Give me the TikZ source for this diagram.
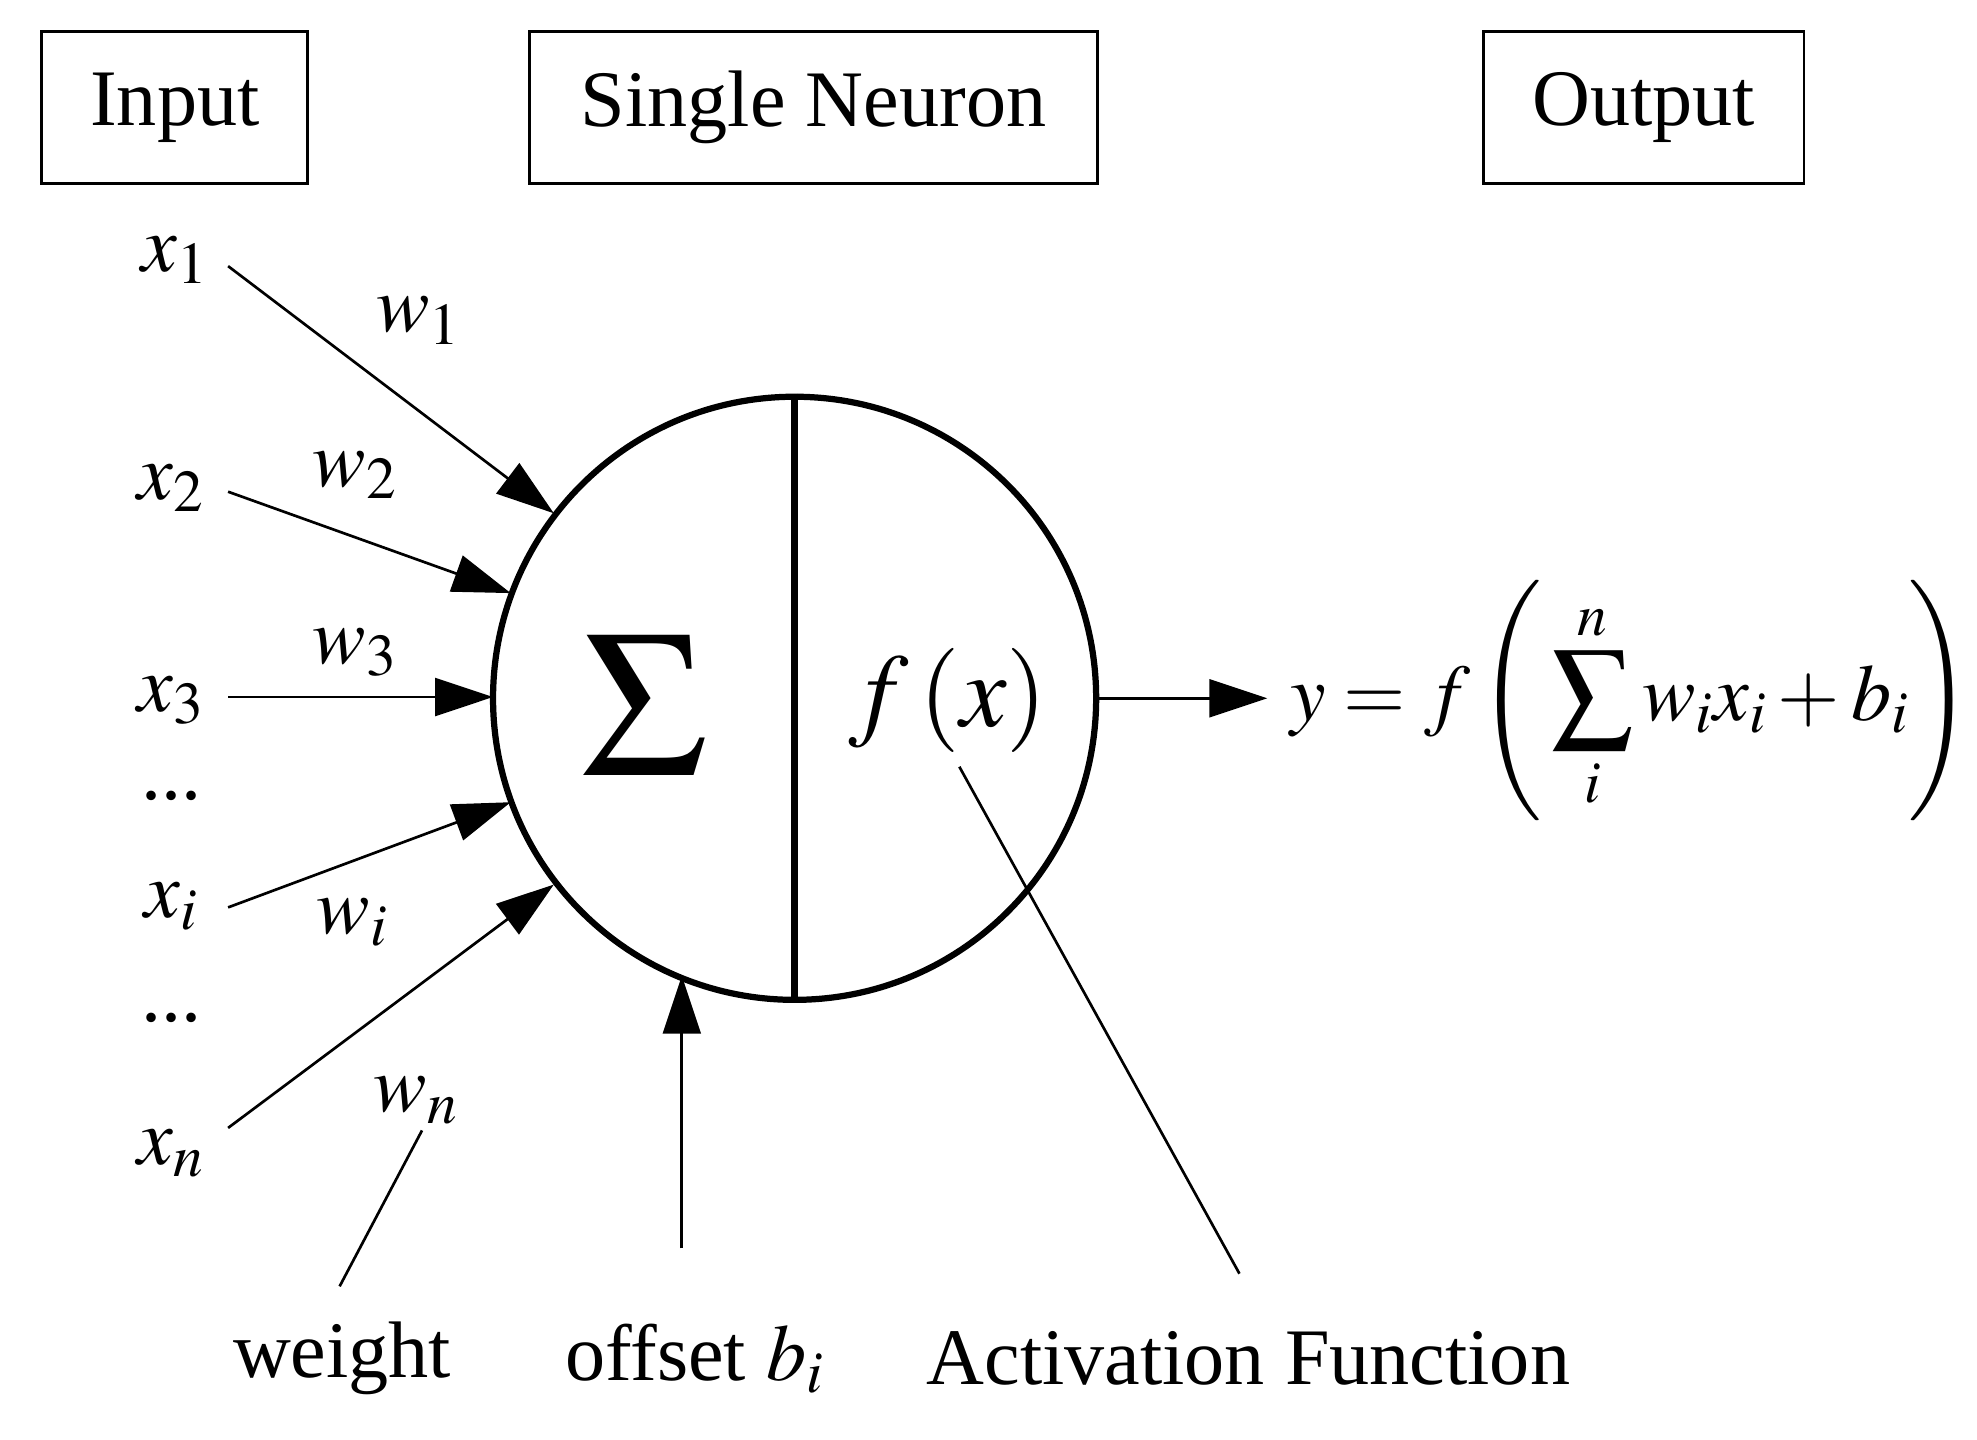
\documentclass[tikz,border=0pt]{standalone}
\usepackage{mathptmx}
\usepackage{fontspec}
\setmainfont{Liberation Serif}
\usetikzlibrary{arrows.meta}
\begin{document}
\begin{tikzpicture}[x=0.02cm,y=-0.02cm,
  txt/.style={font=\fontsize{36}{40}\selectfont, inner sep=0pt},
  box/.style={draw,line width=1.3pt,minimum width=#1,minimum height=2.4cm,font=\fontsize{36}{40}\selectfont},
  arr/.style={line width=1.2pt,-{Triangle[length=26pt,width=17pt]}},
  ln/.style={line width=1.2pt}]
\useasboundingbox (0,0) rectangle (1560,1136);
\node[box=4.2cm] (bi) at (138,85) {Input};
\node[box=8.96cm] (bn) at (642,85) {Single Neuron};
\node[box=5.06cm] (bo) at (1297,85) {Output};
\node[draw,circle,line width=2.8pt,minimum size=9.52cm] (c) at (627,551) {};
\draw[line width=2.8pt] (c.north) -- (c.south);
\node[txt,scale=2.6] (s) at (508,557) {$\Sigma$};
\node[txt,scale=1.3] (f) at (748,553) {$f\left(x\right)$};
\node[txt] (x1) at (138,205) {$x_1$};
\node[txt] (x2) at (135,385) {$x_2$};
\node[txt] (x3) at (135,553) {$x_3$};
\node[txt] (d1) at (135,628) {...};
\node[txt] (xi) at (135,715) {$x_i$};
\node[txt] (d2) at (135,803) {...};
\node[txt] (xn) at (135,910) {$x_n$};
\coordinate (a1s) at (180,210); \coordinate (a1e) at (437,405);
\coordinate (a2s) at (180,388); \coordinate (a2e) at (403,468);
\coordinate (a3s) at (180,550); \coordinate (a3e) at (389,550);
\coordinate (a4s) at (180,716); \coordinate (a4e) at (403,633);
\coordinate (a5s) at (180,890); \coordinate (a5e) at (437,698);
\draw[arr] (a1s) -- (a1e);
\draw[arr] (a2s) -- (a2e);
\draw[arr] (a3s) -- (a3e);
\draw[arr] (a4s) -- (a4e);
\draw[arr] (a5s) -- (a5e);
\node[txt] (w1) at (330,253) {$w_1$};
\node[txt] (w2) at (280,375) {$w_2$};
\node[txt] (w3) at (280,515) {$w_3$};
\node[txt] (wi) at (278,728) {$w_i$};
\node[txt] (wn) at (328,868) {$w_n$};
\node[txt] (weight) at (270,1072) {weight};
\node[txt] (off) at (548,1072) {offset $b_i$};
\node[txt] (act) at (985,1072) {Activation Function};
\coordinate (wl1) at (268,1015); \coordinate (wl2) at (333,892);
\draw[ln] (wl1) -- (wl2);
\coordinate (o1) at (538,985); \coordinate (o2) at (538,770);
\draw[arr] (o1) -- (o2);
\coordinate (al1) at (757,605); \coordinate (al2) at (978,1005);
\draw[ln] (al1) -- (al2);
\node[txt,anchor=west] (y) at (1018,553) {$y=f\left(\,\displaystyle\sum_i^n w_i x_i+b_i\right)$};
\coordinate (oe) at (1000,551);
\draw[arr] (c.east) -- (oe);
\end{tikzpicture}
\end{document}
